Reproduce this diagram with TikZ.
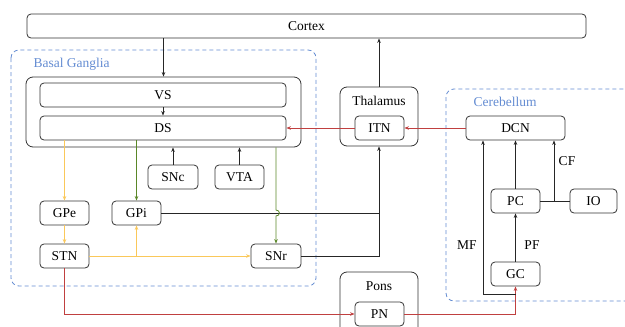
\documentclass[tikz,border=0pt]{standalone}
\usepackage{fontspec}
\setmainfont{Liberation Serif}
\usetikzlibrary{arrows.meta,calc}
\definecolor{linkred}{RGB}{192,64,64}
\definecolor{linkyel}{RGB}{250,200,90}
\definecolor{linkgrn}{RGB}{90,135,40}
\definecolor{regblue}{RGB}{100,140,210}
\tikzset{
  lbl/.style={font=\fontsize{13.5}{16}\selectfont},
  box/.style={lbl, draw=black!80, line width=0.8pt, rounded corners=4pt,
    minimum height=24pt, inner sep=0pt},
  group/.style={draw=black!80, line width=0.8pt, rounded corners=7pt},
  region/.style={draw=regblue, dashed, line width=0.8pt, rounded corners=8pt,
    dash pattern=on 4pt off 3pt},
  tip/.style={-{Stealth[length=4.5pt,width=3.5pt]}},
  blk/.style={black!85, line width=0.7pt},
  redl/.style={linkred, line width=0.8pt},
  yell/.style={linkyel, line width=0.8pt},
  grnl/.style={linkgrn, line width=0.8pt},
}
\begin{document}
\begin{tikzpicture}[x=1pt,y=-1pt]
\useasboundingbox (0,0) rectangle (625,327);
\clip (0,0) rectangle (625,327);

% regions
\draw[region] (11,50) rectangle (316,286);
\node[lbl, text=regblue, anchor=west] (bglabel) at (30,64) {Basal Ganglia};
\draw[region] (446,89) rectangle (640,301);
\node[lbl, text=regblue, anchor=west] (cblabel) at (470,102) {Cerebellum};

% top level
\node[box, minimum width=559pt] (cortex) at (306.5,26) {Cortex};

% striatum
\node[group, minimum width=275pt, minimum height=70pt] (str) at (163.5,112) {};
\node[box, minimum width=246pt] (VS) at (163,95) {VS};
\node[box, minimum width=246pt] (DS) at (163,128) {DS};

% basal ganglia nuclei
\node[box, minimum width=50pt] (SNc) at (173,177) {SNc};
\node[box, minimum width=49pt] (VTA) at (239.5,177) {VTA};
\node[box, minimum width=49pt] (GPe) at (64.5,213) {GPe};
\node[box, minimum width=49pt] (GPi) at (136.5,213) {GPi};
\node[box, minimum width=49pt] (STN) at (64.5,256) {STN};
\node[box, minimum width=50pt] (SNr) at (276,256) {SNr};

% thalamus
\node[group, minimum width=78pt, minimum height=59pt] (thal) at (379,116.5) {};
\node[lbl] (thallabel) at (379,101) {Thalamus};
\node[box, minimum width=49pt] (ITN) at (379.5,128) {ITN};

% pons
\node[group, minimum width=78pt, minimum height=66pt] (pons) at (379,305) {};
\node[lbl] (ponslabel) at (379,286) {Pons};
\node[box, minimum width=49pt] (PN) at (379.5,314) {PN};

% cerebellum
\node[box, minimum width=99pt] (DCN) at (515.5,128) {DCN};
\node[box, minimum width=49pt] (PC) at (515.5,201) {PC};
\node[box, minimum width=47pt] (IO) at (593.5,201) {IO};
\node[box, minimum width=49pt] (GC) at (515.5,274) {GC};

% cortical input and striatal links
\draw[blk, tip] (cortex.south -| str.north) -- (str.north);
\draw[blk, tip] (VS.south) -- (DS.north);
\draw[blk, tip] (SNc.north) -- (SNc.north |- str.south);
\draw[blk, tip] (VTA.north) -- (VTA.north |- str.south);

% indirect pathway
\draw[yell, tip] (DS.south -| GPe.north) -- (GPe.north);
\draw[yell, tip] (GPe.south) -- (STN.north);
\draw[yell, tip] (STN.east) -- (SNr.west);
\coordinate (stnbr) at (STN.east -| GPi.south);
\draw[yell, tip] (stnbr) -- (GPi.south);

% output nuclei to thalamus
\draw[blk] (GPi.east) -- (GPi.east -| thal.south);
\draw[blk, tip] (SNr.east) -| (thal.south);
\draw[blk, tip] (thal.north) -- (thal.north |- cortex.south);

% direct pathway
\draw[grnl, tip] (DS.south -| GPi.north) -- (GPi.north);
\coordinate (jmp) at (SNr.north |- GPi.east);
\draw[grnl, tip] (str.south -| SNr.north) -- ($(jmp)+(0,-3)$)
  .. controls ($(jmp)+(4.5,-3)$) and ($(jmp)+(4.5,3)$) .. ($(jmp)+(0,3)$)
  -- (SNr.north);

% thalamic and pontine relays
\draw[redl, tip] (ITN.west) -- (DS.east);
\draw[redl, tip] (DCN.west) -- (ITN.east);
\draw[redl, tip] (STN.south) |- (PN.west);
\draw[redl, tip] (PN.east) -| (GC.south);

% cerebellar circuit
\coordinate (mf) at (483,294);
\draw[blk, tip] (GC.south |- mf) -- (mf) -- (mf |- DCN.south);
\draw[blk, tip] (GC.north) -- (PC.south);
\draw[blk, tip] (PC.north) -- (PC.north |- DCN.south);
\coordinate (cf) at (554,201);
\draw[blk] (IO.west) -- (PC.east);
\draw[blk, tip] (cf) -- (cf |- DCN.south);

% fibre labels
\node[lbl] (mflabel) at (467,245) {MF};
\node[lbl] (pflabel) at (532,245) {PF};
\node[lbl] (cflabel) at (567,161) {CF};
\end{tikzpicture}
\end{document}
